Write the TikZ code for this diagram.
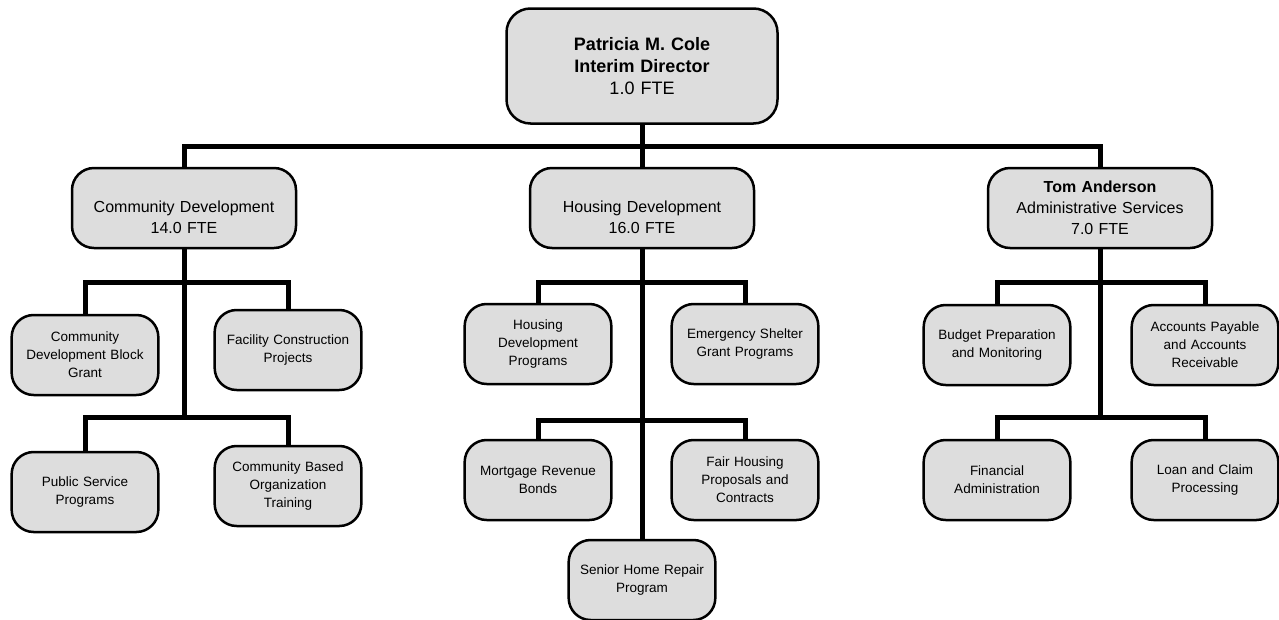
\documentclass[tikz,border=0pt]{standalone}
\usepackage{fontspec}
\setmainfont{Liberation Sans}
\definecolor{gray1}{RGB}{221,221,221}
\tikzstyle{chief} = [draw, rectangle, text centered, text width=250pt, minimum width=271pt, minimum height=115pt, rounded corners=24pt, fill=gray1, line width=2.5pt, font=\fontsize{18}{22}\selectfont]
\tikzstyle{dept} = [draw, rectangle, text centered, text width=210pt, minimum width=224pt, minimum height=80pt, rounded corners=22pt, fill=gray1, line width=2.5pt, font=\fontsize{16}{21}\selectfont]
\tikzstyle{deptlow} = [dept, text height=31pt]
\tikzstyle{unit} = [draw, rectangle, text centered, text width=140pt, minimum width=146pt, minimum height=80pt, rounded corners=22pt, fill=gray1, line width=2.5pt, font=\fontsize{13.5}{18}\selectfont]
\tikzstyle{link} = [draw, line width=5pt]

\begin{document}
\begin{tikzpicture}[x=1pt, y=-1pt]
	\useasboundingbox (0,0) rectangle (1279,619);

	\node [chief] (director) at (642,66) {\textbf{Patricia M. Cole}\\\textbf{Interim Director}\\1.0 FTE};

	\node [deptlow] (community) at (184,208) {Community Development\\14.0 FTE};
	\node [deptlow] (housing) at (642,208) {Housing Development\\16.0 FTE};
	\node [dept] (admin) at (1100,208) {\textbf{Tom Anderson}\\Administrative Services\\7.0 FTE};

	\node [unit] (cdbg) at (85,355) {Community\\Development Block\\Grant};
	\node [unit] (facility) at (288,350) {Facility Construction\\Projects};
	\node [unit] (public) at (85,492) {Public Service\\Programs};
	\node [unit] (cbo) at (288,486) {Community Based\\Organization\\Training};

	\node [unit] (hdprog) at (538,344) {Housing\\Development\\Programs};
	\node [unit] (shelter) at (745,344) {Emergency Shelter\\Grant Programs};
	\node [unit] (mortgage) at (538,480) {Mortgage Revenue\\Bonds};
	\node [unit] (fair) at (745,480) {Fair Housing\\Proposals and\\Contracts};
	\node [unit] (senior) at (642,580) {Senior Home Repair\\Program};

	\node [unit] (budget) at (997,345) {Budget Preparation\\and Monitoring};
	\node [unit] (payable) at (1205,345) {Accounts Payable\\and Accounts\\Receivable};
	\node [unit] (financial) at (997,480) {Financial\\Administration};
	\node [unit] (loan) at (1205,480) {Loan and Claim\\Processing};

	\coordinate (bus) at (642,146);
	\coordinate (cd1) at (184,282);
	\coordinate (cd2) at (184,417);
	\coordinate (hd1) at (642,282);
	\coordinate (hd2) at (642,420);
	\coordinate (as1) at (1100,282);
	\coordinate (as2) at (1100,417);

	\draw [link] (director.south) to (bus);
	\draw [link] (community.north) |- (bus) -| (admin.north);
	\draw [link] (bus) to (housing.north);

	\draw [link] (community.south) to (cd2);
	\draw [link] (cdbg.north) |- (cd1) -| (facility.north);
	\draw [link] (public.north) |- (cd2) -| (cbo.north);

	\draw [link] (housing.south) to (senior.north);
	\draw [link] (hdprog.north) |- (hd1) -| (shelter.north);
	\draw [link] (mortgage.north) |- (hd2) -| (fair.north);

	\draw [link] (admin.south) to (as2);
	\draw [link] (budget.north) |- (as1) -| (payable.north);
	\draw [link] (financial.north) |- (as2) -| (loan.north);
\end{tikzpicture}
\end{document}
